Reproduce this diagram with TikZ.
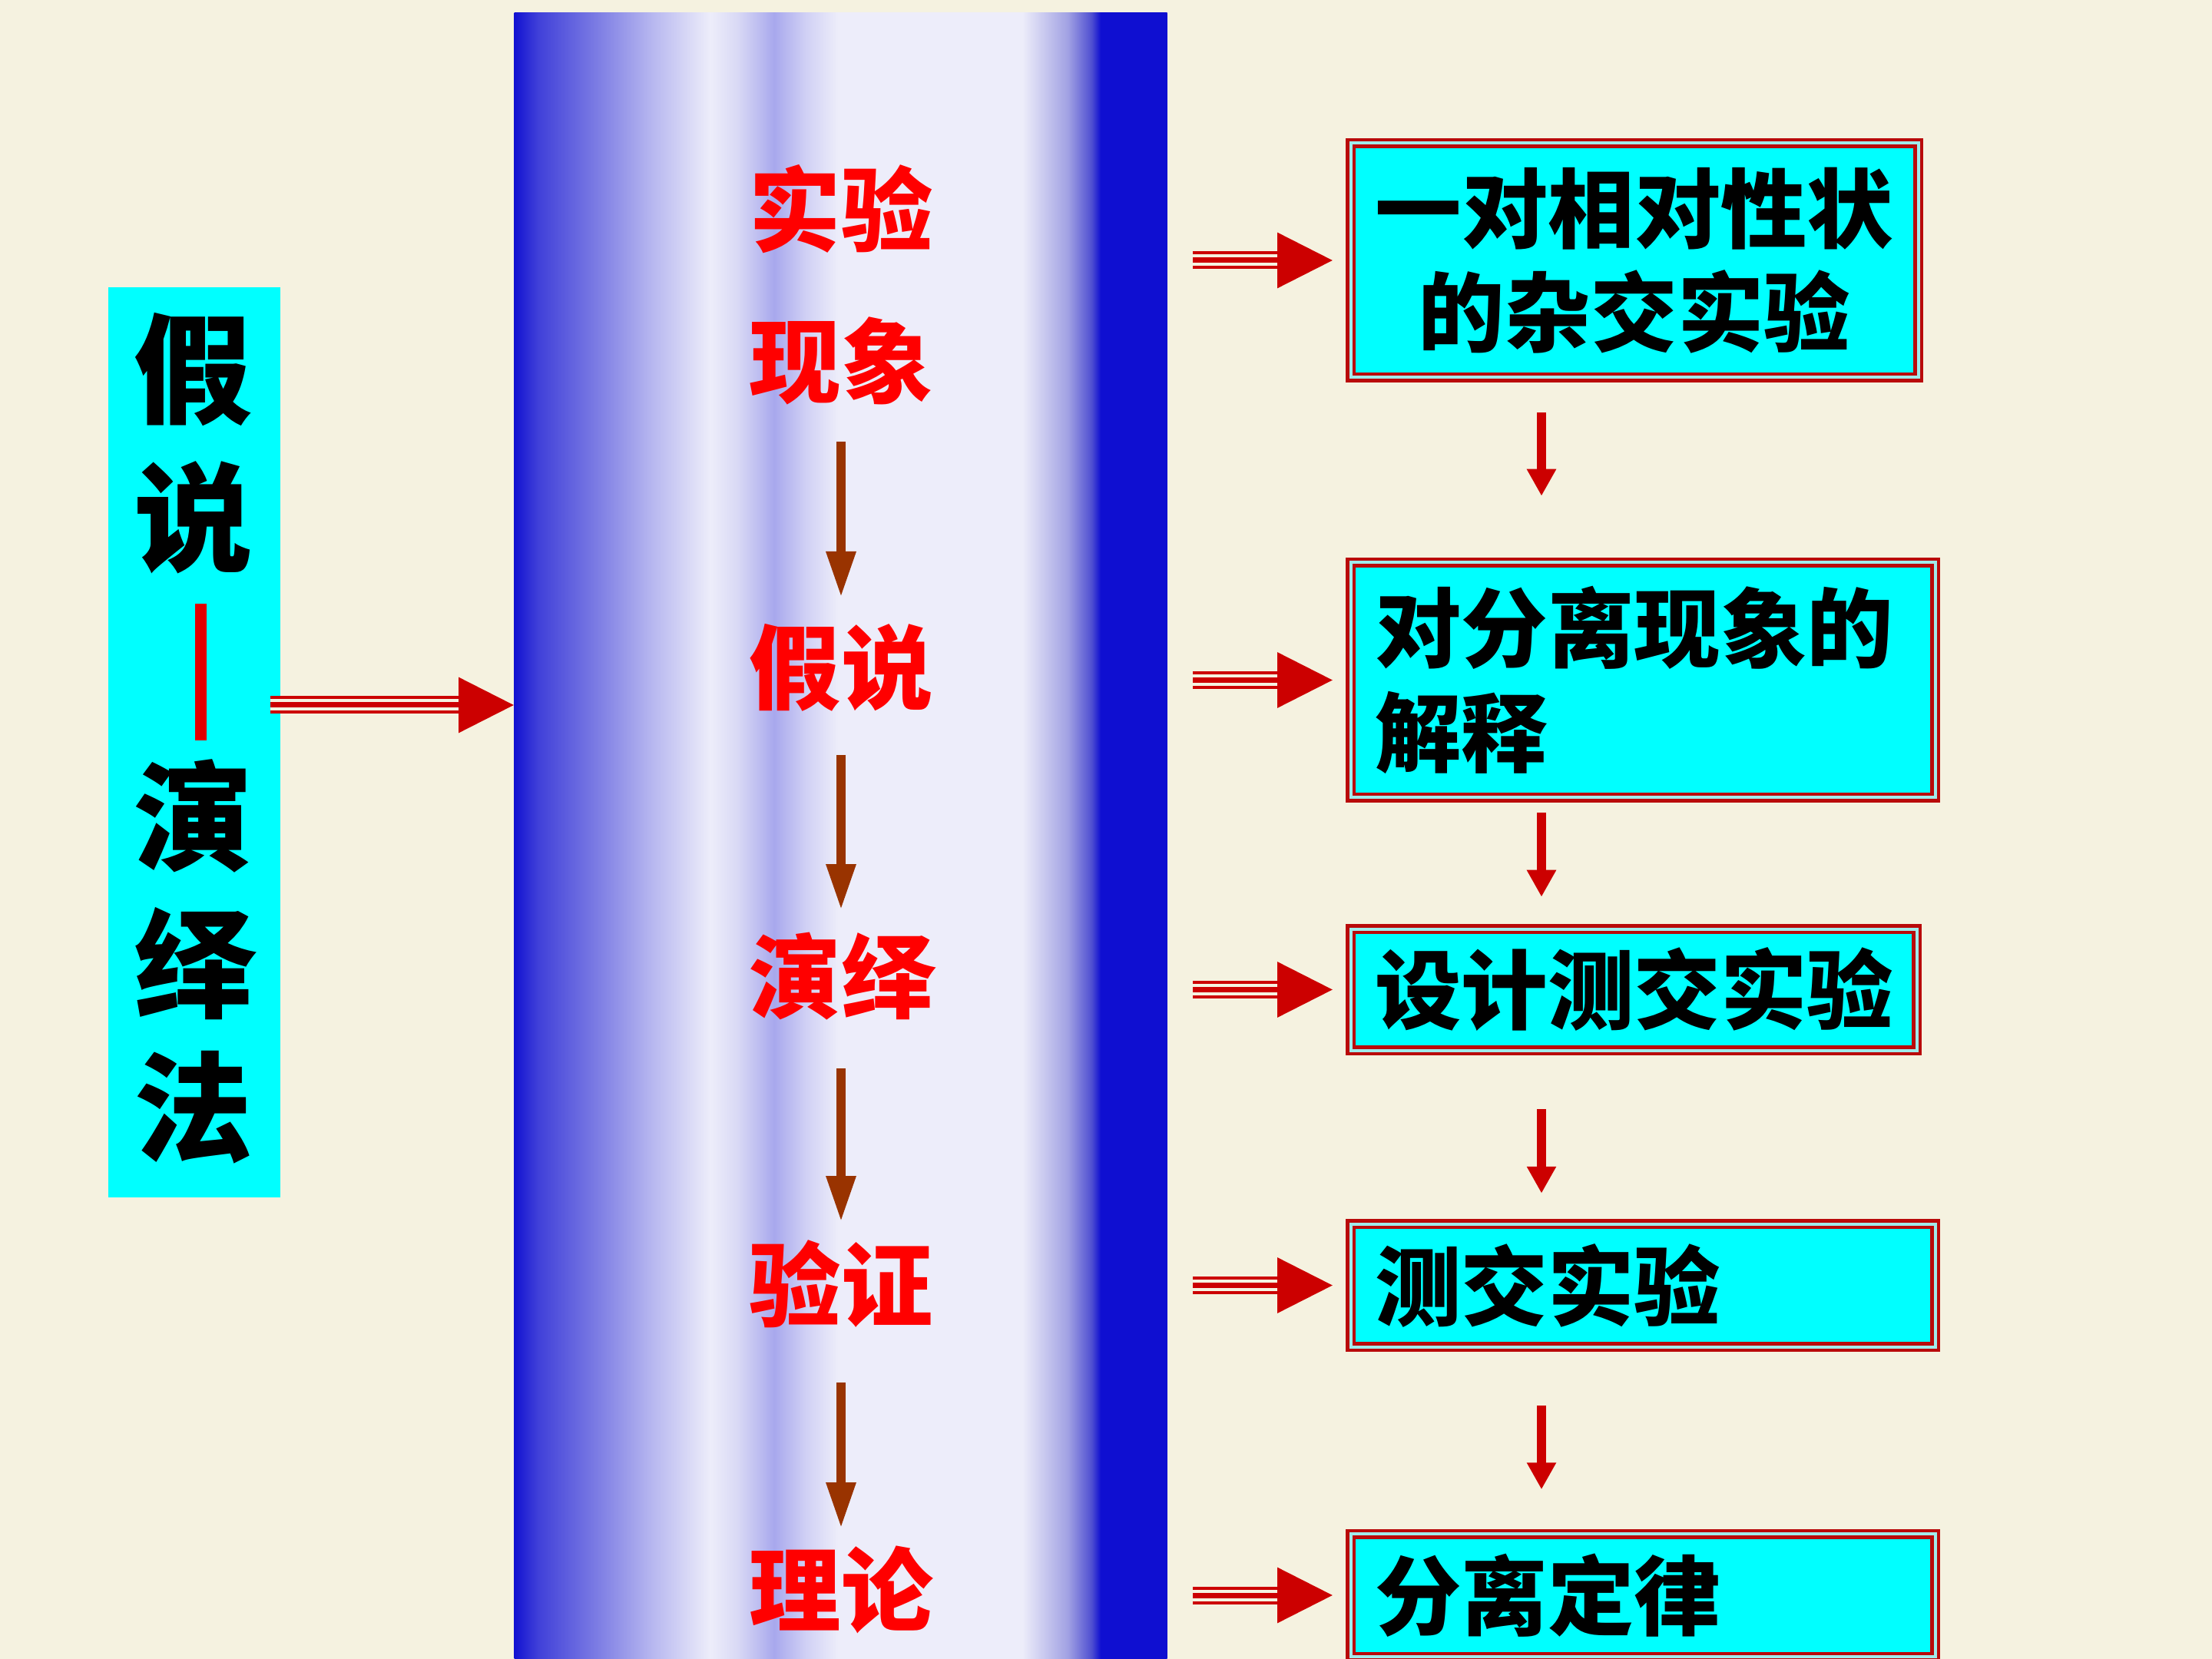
\documentclass[tikz,border=0pt]{standalone}
\usepackage{fontspec}
\newfontfamily\cjk{Noto Sans CJK SC}
\usetikzlibrary{arrows.meta}
\definecolor{bg}{RGB}{245,242,224}
\definecolor{boxcyan}{RGB}{0,255,255}
\definecolor{gapcyan}{RGB}{160,235,235}
\definecolor{boxred}{RGB}{185,10,10}
\definecolor{arrred}{RGB}{204,0,0}
\definecolor{barred}{RGB}{225,0,0}
\definecolor{arrbrown}{RGB}{153,51,0}
\pgfdeclarehorizontalshading{colshade}{100bp}{rgb(0bp)=(.07,.07,.82); rgb(25bp)=(.07,.07,.82);
  rgb(26.8bp)=(.25,.25,.85); rgb(31bp)=(.47,.47,.89); rgb(35.6bp)=(.72,.72,.94); rgb(40bp)=(.93,.93,.98);
  rgb(42.1bp)=(.85,.85,.96); rgb(44.9bp)=(.66,.66,.93); rgb(47.4bp)=(.82,.82,.96); rgb(49.8bp)=(.93,.93,.98);
  rgb(63.9bp)=(.93,.93,.98); rgb(67.4bp)=(.63,.63,.89); rgb(69.2bp)=(.31,.31,.82); rgb(69.9bp)=(.06,.06,.82);
  rgb(75bp)=(.06,.06,.82); rgb(100bp)=(.06,.06,.82)}
\begin{document}
\begin{tikzpicture}[every node/.style={inner sep=0},
  cn/.style={font=\cjk\bfseries\fontsize{44pt}{44pt}\selectfont},
  ct/.style={text=red, align=center, font=\cjk\bfseries\fontsize{34pt}{56pt}\selectfont},
  rbox/.style={draw=boxred, double=gapcyan, double distance=.04cm, line width=.045cm, fill=boxcyan,
    inner xsep=.32cm, font=\cjk\bfseries\fontsize{32pt}{38.6pt}\selectfont},
  tribase/.style={draw=arrred, line width=.23cm, shorten >=.70cm},
  trigap/.style={draw=bg, line width=.15cm, shorten >=.70cm},
  tricore/.style={draw=arrred, line width=.07cm, -{Triangle[length=.72cm,width=.71cm]}},
  downred/.style={draw=arrred, line width=.12cm, -{Triangle[length=.35cm,width=.36cm]}},
  downbrown/.style={draw=arrbrown, line width=.12cm, -{Triangle[length=.60cm,width=.36cm]}}]
\useasboundingbox (0,0) rectangle (28.8,-21.6);
\fill[bg] (0,0) rectangle (28.8,-21.6);
\node[shade, shading=colshade, minimum width=8.5cm, minimum height=21.5cm, anchor=north west] (col) at (6.69,-.16) {};
\node[fill=boxcyan, minimum width=2.24cm, minimum height=11.85cm, anchor=north west] (m) at (1.40,-3.73) {};
\foreach \c/\y [count=\i] in {假/4.81, 说/6.74, 演/10.62, 绎/12.55, 法/14.42}
  \node[cn] (m\i) at (2.52,-\y) {\c};
\draw[barred, line width=.15cm] (2.61,-7.86) -- (2.61,-9.64);
\node[ct] (obs) at (10.95,-3.71) {实验\\现象};
\node[ct] (hyp) at (10.95,-8.69) {假说};
\node[ct] (ded) at (10.95,-12.71) {演绎};
\node[ct] (ver) at (10.95,-16.72) {验证};
\node[ct] (thy) at (10.95,-20.70) {理论};
\foreach \a/\b/\s/\e in {obs/hyp/2.04/.91, hyp/ded/1.14/.86, ded/ver/1.20/.81, ver/thy/1.28/.80}
  \draw[downbrown, shorten <=\s cm, shorten >=\e cm] (\a.center) -- (\b.center);
\node[rbox, minimum height=3.05cm, text width=6.75cm, align=center] (b1) at (21.28,-3.39) {一对相对性状\\的杂交实验};
\node[rbox, minimum height=3.06cm, text width=6.97cm, align=left] (b2) at (21.39,-8.855) {对分离现象的\\解释};
\node[rbox, minimum height=1.58cm, text width=6.73cm, align=left] (b3) at (21.27,-12.885) {设计测交实验};
\node[rbox, minimum height=1.60cm, text width=6.97cm, align=left] (b4) at (21.39,-16.735) {测交实验};
\node[rbox, minimum height=1.60cm, text width=6.97cm, align=left] (b5) at (21.39,-20.77) {分离定律};
\coordinate (ax) at (20.07,0);
\foreach \a/\b/\s/\e in {b1/b2/.435/.845, b2/b3/.175/.395, b3/b4/.745/.375, b4/b5/.745/.555}
  \draw[downred, shorten <=\s cm, shorten >=\e cm] (\a.south -| ax) -- (\b.north -| ax);
\coordinate (hs) at (3.52,-9.18);
\coordinate (ht) at (hs -| col.west);
\draw[tribase] (hs) -- (ht); \draw[trigap] (hs) -- (ht); \draw[tricore] (hs) -- (ht);
\coordinate (st) at (15.53,0); \coordinate (tp) at (17.35,0);
\foreach \i in {1,...,5} {
  \coordinate (s\i) at (b\i.west -| st); \coordinate (t\i) at (b\i.west -| tp);
  \draw[tribase] (s\i) -- (t\i); \draw[trigap] (s\i) -- (t\i); \draw[tricore] (s\i) -- (t\i);
}
\end{tikzpicture}
\end{document}
